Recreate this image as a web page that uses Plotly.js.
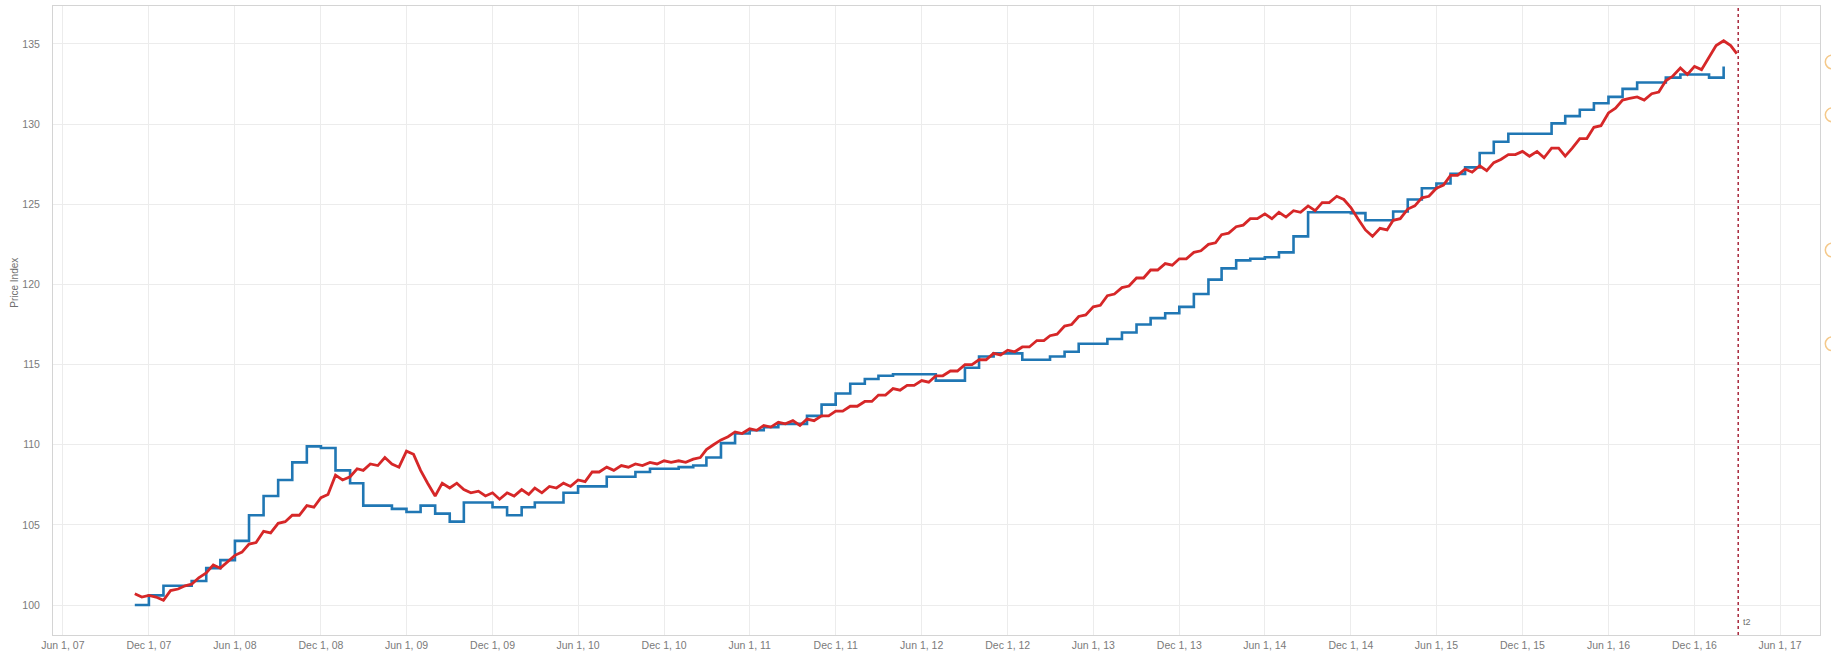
<!DOCTYPE html>
<html>
<head>
<meta charset="utf-8">
<script src="https://cdn.plot.ly/plotly-3.0.1.min.js"></script>
<style>
html, body { margin: 0; padding: 0; background: #fff; }
#chart { width: 1831px; height: 658px; }
</style>
</head>
<body>
<div id="chart"></div>
<script>
// monthly index (step line), starts Nov 2007
var blueValues = [
    100.0, 100.6, 101.2, 101.2, 101.5, 102.3, 102.8, 104.0, 105.6, 106.8, 107.8, 108.9,
    109.9, 109.8, 108.4, 107.6, 106.2, 106.2, 106.0, 105.8, 106.2, 105.7, 105.2, 106.4,
    106.4, 106.1, 105.6, 106.1, 106.4, 106.4, 107.0, 107.4, 107.4, 108.0, 108.0, 108.3,
    108.5, 108.5, 108.6, 108.7, 109.2, 110.1, 110.7, 110.9, 111.1, 111.3, 111.3, 111.8,
    112.5, 113.2, 113.8, 114.1, 114.3, 114.4, 114.4, 114.4, 114.0, 114.0, 114.8, 115.5,
    115.7, 115.7, 115.3, 115.3, 115.5, 115.8, 116.3, 116.3, 116.6, 117.0, 117.5, 117.9,
    118.2, 118.6, 119.4, 120.3, 121.0, 121.5, 121.6, 121.7, 122.0, 123.0, 124.5, 124.5,
    124.5, 124.45, 124.0, 124.0, 124.55, 125.3, 126.0, 126.3, 126.9, 127.3, 128.2, 128.9,
    129.4, 129.4, 129.4, 130.05, 130.5, 130.9, 131.3, 131.7, 132.2, 132.6, 132.6, 132.9,
    133.1, 133.1, 132.9, 133.6
];

// twice a month (1st and 16th), starts Nov 2007
var redValues = [
    100.7, 100.5, 100.6, 100.5, 100.3, 100.9, 101.0, 101.2, 101.3, 101.7, 102.0, 102.5,
    102.3, 102.7, 103.1, 103.3, 103.8, 103.9, 104.6, 104.5, 105.1, 105.2, 105.6, 105.6,
    106.2, 106.1, 106.7, 106.9, 108.1, 107.8, 108.0, 108.5, 108.4, 108.8, 108.7, 109.2,
    108.8, 108.6, 109.6, 109.4, 108.4, 107.6, 106.8, 107.6, 107.3, 107.6, 107.2, 107.0,
    107.1, 106.8, 107.0, 106.6, 107.0, 106.8, 107.2, 106.9, 107.3, 107.0, 107.4, 107.3,
    107.6, 107.4, 107.8, 107.7, 108.3, 108.3, 108.6, 108.4, 108.7, 108.6, 108.8, 108.7,
    108.9, 108.8, 109.0, 108.9, 109.0, 108.9, 109.1, 109.2, 109.7, 110.0, 110.3, 110.5,
    110.8, 110.7, 111.0, 110.9, 111.2, 111.1, 111.4, 111.3, 111.5, 111.2, 111.6, 111.5,
    111.8, 111.8, 112.1, 112.1, 112.4, 112.4, 112.7, 112.7, 113.1, 113.1, 113.5, 113.4,
    113.7, 113.7, 114.0, 113.9, 114.3, 114.3, 114.6, 114.6, 115.0, 115.0, 115.3, 115.3,
    115.7, 115.6, 115.9, 115.8, 116.1, 116.1, 116.5, 116.5, 116.8, 116.9, 117.4, 117.5,
    118.0, 118.1, 118.6, 118.7, 119.3, 119.4, 119.8, 119.9, 120.4, 120.4, 120.9, 120.9,
    121.3, 121.2, 121.6, 121.6, 122.0, 122.1, 122.5, 122.6, 123.1, 123.2, 123.6, 123.7,
    124.1, 124.1, 124.4, 124.1, 124.5, 124.2, 124.6, 124.5, 124.9, 124.6, 125.1, 125.1,
    125.5, 125.3, 124.8, 124.1, 123.4, 123.0, 123.5, 123.4, 124.0, 124.1, 124.7, 124.9,
    125.4, 125.5, 126.0, 126.2, 126.8, 126.8, 127.2, 127.0, 127.4, 127.1, 127.6, 127.8,
    128.1, 128.1, 128.3, 128.0, 128.3, 127.9, 128.5, 128.5, 128.0, 128.5, 129.1, 129.1,
    129.8, 129.9, 130.7, 131.0, 131.5, 131.6, 131.7, 131.5, 131.9, 132.0, 132.7, 133.0,
    133.5, 133.1, 133.6, 133.4, 134.2, 134.9, 135.2, 134.9, 134.4
];

var tickDates = [
    "2007-06-01", "2007-12-01", "2008-06-01", "2008-12-01", "2009-06-01", "2009-12-01",
    "2010-06-01", "2010-12-01", "2011-06-01", "2011-12-01", "2012-06-01", "2012-12-01",
    "2013-06-01", "2013-12-01", "2014-06-01", "2014-12-01", "2015-06-01", "2015-12-01",
    "2016-06-01", "2016-12-01", "2017-06-01"
];
var yTicks = [100, 105, 110, 115, 120, 125, 130, 135];
var markerDate = "2017-03-04";
var markerLabel = "t2";

function monthDate(i, day) {
    return new Date(Date.UTC(2007, 10 + i, day)).toISOString().slice(0, 10);
}

var blueDates = blueValues.map(function (v, i) { return monthDate(i, 1); });
var redDates = redValues.map(function (v, i) { return monthDate(Math.floor(i / 2), i % 2 ? 16 : 1); });

var traceBlue = {
    x: blueDates,
    y: blueValues,
    type: "scatter",
    mode: "lines",
    line: {color: "#2077b4", width: 2.6, shape: "hv"},
    hoverinfo: "x+y"
};

var traceRed = {
    x: redDates,
    y: redValues,
    type: "scatter",
    mode: "lines",
    line: {color: "#d62728", width: 2.8},
    hoverinfo: "x+y"
};

var axisFont = {family: "Liberation Sans, Arial, sans-serif", size: 10.5, color: "#7a7a7a"};

var layout = {
    width: 1831,
    height: 658,
    margin: {l: 53, r: 11, t: 6, b: 23},
    paper_bgcolor: "#fff",
    plot_bgcolor: "#fff",
    showlegend: false,
    xaxis: {
        type: "date",
        range: ["2007-05-11", "2017-08-25"],
        tickvals: tickDates,
        tickformat: "%b %-d, %y",
        tickfont: axisFont,
        ticks: "",
        showgrid: true,
        gridcolor: "#ececec",
        showline: true,
        linecolor: "#d4d4d4",
        mirror: true,
        zeroline: false
    },
    yaxis: {
        range: [98.13, 137.37],
        tickvals: yTicks,
        tickfont: axisFont,
        ticks: "",
        ticklabelstandoff: 10,
        showgrid: true,
        gridcolor: "#ececec",
        showline: true,
        linecolor: "#d4d4d4",
        mirror: true,
        zeroline: false
    },
    shapes: [
        {type: "line", xref: "x", yref: "paper", x0: markerDate, x1: markerDate, y0: 0, y1: 1,
         line: {color: "#a8283c", width: 1.5, dash: "dot"}},
        {type: "circle", xref: "paper", yref: "paper", x0: 1.003, x1: 1.011, y0: 0.900, y1: 0.922,
         line: {color: "#f5c98a", width: 1.5}},
        {type: "circle", xref: "paper", yref: "paper", x0: 1.003, x1: 1.011, y0: 0.816, y1: 0.838,
         line: {color: "#f5c98a", width: 1.5}},
        {type: "circle", xref: "paper", yref: "paper", x0: 1.003, x1: 1.011, y0: 0.601, y1: 0.623,
         line: {color: "#f5c98a", width: 1.5}},
        {type: "circle", xref: "paper", yref: "paper", x0: 1.003, x1: 1.011, y0: 0.452, y1: 0.474,
         line: {color: "#f5c98a", width: 1.5}}
    ],
    annotations: [
        {text: "Price Index", xref: "paper", yref: "paper", x: -0.0215, y: 0.56,
         textangle: -90, showarrow: false, xanchor: "center", yanchor: "middle",
         font: {family: "Liberation Sans, Arial, sans-serif", size: 10, color: "#6f6f6f"}},
        {text: markerLabel, xref: "x", yref: "paper", x: markerDate, y: 0.02,
         xanchor: "left", yanchor: "middle", xshift: 3, showarrow: false,
         font: {family: "Liberation Sans, Arial, sans-serif", size: 9, color: "#6f6f6f"}}
    ]
};

Plotly.newPlot("chart", [traceBlue, traceRed], layout, {displayModeBar: false, staticPlot: true});
</script>
</body>
</html>
